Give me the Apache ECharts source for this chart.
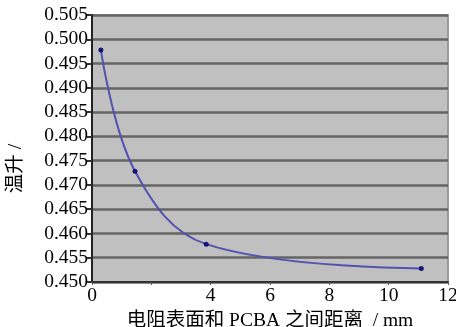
<!DOCTYPE html>
<html>
<head>
<meta charset="utf-8">
<script src="https://cdn.jsdelivr.net/npm/echarts@6/dist/echarts.min.js"></script>
<style>
  html, body { margin: 0; padding: 0; background: #fff; }
  #chart { width: 456px; height: 327px; }
</style>
</head>
<body>
<div id="chart"></div>
<script>
// Distance between resistor surface and PCBA (mm) vs temperature rise
const distances = [0.3, 1.45, 3.85, 11.1];
const tempRise = [0.4978, 0.4728, 0.4578, 0.4528];
const xTickHidden = [2];

const points = distances.map((d, i) => [d, tempRise[i]]);
const serif = '"Liberation Serif", "Times New Roman", serif';
const cjk = '"Liberation Serif", "Noto Sans CJK SC", serif';

const chart = echarts.init(document.getElementById('chart'));
chart.setOption({
  animation: false,
  grid: {
    left: 92, right: 8, top: 15, bottom: 45,
    outerBoundsMode: 'none',
    containLabel: false,
    show: true,
    backgroundColor: '#c0c0c0',
    borderColor: '#9a9a9a',
    borderWidth: 2
  },
  xAxis: {
    type: 'value',
    min: 0, max: 12, interval: 2,
    name: '电阻表面和 PCBA 之间距离  / mm',
    nameLocation: 'middle',
    nameGap: 24,
    nameTextStyle: { fontFamily: cjk, fontSize: 19.5, color: '#000' },
    axisLine: { show: true, lineStyle: { color: '#333', width: 2 } },
    axisTick: { show: true, length: 3, lineStyle: { color: '#555' } },
    axisLabel: {
      interval: 0,
      hideOverlap: false,
      fontFamily: serif, fontSize: 19.5, color: '#000', margin: 4,
      formatter: v => xTickHidden.includes(v) ? '' : String(v)
    },
    splitLine: { show: false }
  },
  yAxis: {
    type: 'value',
    min: 0.45, max: 0.505, interval: 0.005,
    name: '温升 /',
    nameLocation: 'middle',
    nameGap: 66,
    nameRotate: 90,
    nameTextStyle: { fontFamily: cjk, fontSize: 19.5, color: '#000', padding: [0, 40, 0, 0] },
    axisLine: { show: true, lineStyle: { color: '#222', width: 2 } },
    axisTick: { show: true, length: 5, lineStyle: { color: '#333', width: 2 } },
    axisLabel: {
      fontFamily: serif, fontSize: 19.5, color: '#000', margin: 4,
      formatter: v => v.toFixed(3)
    },
    splitLine: { show: true, lineStyle: { color: '#656565', width: 2.5 } }
  },
  series: [{
    type: 'line',
    data: points,
    smooth: 0.38,
    symbol: 'circle',
    symbolSize: 5,
    itemStyle: { color: '#14147a' },
    lineStyle: { color: '#5252b0', width: 2 }
  }]
});
</script>
</body>
</html>
